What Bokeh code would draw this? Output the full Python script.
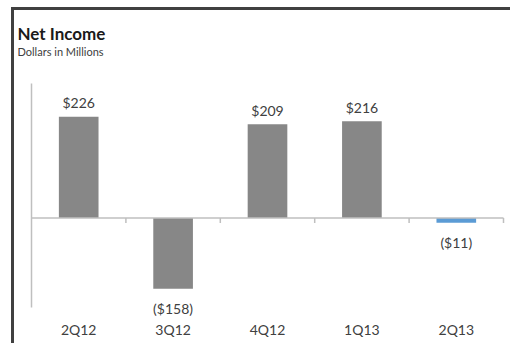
from bokeh.plotting import figure
from bokeh.models import Range1d
from bokeh.core.properties import value
from bokeh.embed import file_html
from bokeh.resources import INLINE

# ---- data ----
categories = ["2Q12", "3Q12", "4Q12", "1Q13", "2Q13"]
net_income = [226, -158, 209, 216, -11]
bar_colors = ["#878787", "#878787", "#878787", "#878787", "#5b9bd5"]
title = "Net Income"
subtitle = "Dollars in Millions"
y_min, y_max = -200, 300

# ---- layout (pixels) ----
W, H = 510, 343
PL, PR, PT, PB = 31, 503, 83, 307          # plot area edges on the canvas
n = len(categories)
cat_w = (PR - PL) / n
y_scale = (PB - PT) / (y_max - y_min)       # px per unit

x0 = -0.5 - PL / cat_w
x1 = -0.5 + (W - PL) / cat_w
zero_px = PT + y_max * y_scale
y1 = zero_px / y_scale
y0 = -(H - zero_px) / y_scale

def px_x(px):
    return x0 + px / cat_w

def px_y(py):
    return y1 - py / y_scale

p = figure(width=W, height=H, output_backend="svg", toolbar_location=None,
           x_range=Range1d(x0, x1), y_range=Range1d(y0, y1),
           x_axis_type=None, y_axis_type=None, min_border=0)
p.outline_line_color = None
p.xgrid.visible = False
p.ygrid.visible = False
p.background_fill_color = "white"
p.border_fill_color = "white"

FONT = value("Lato")
idx = list(range(n))

# frame border (left and top only, cut by the window)
p.segment(x0=[px_x(12), px_x(10.5)], y0=[px_y(H), px_y(8)],
          x1=[px_x(12), px_x(W)], y1=[px_y(8), px_y(8)],
          line_color="#404040", line_width=3)

# title
p.text(x=[px_x(17)], y=[px_y(33)], text=[title], text_font=FONT,
       text_font_size="17px", text_font_style="bold", text_color="#1a1a1a",
       text_baseline="middle", text_align="left")
p.text(x=[px_x(17)], y=[px_y(51)], text=[subtitle], text_font=FONT,
       text_font_size="11px", text_color="#404040",
       text_baseline="middle", text_align="left")

# bars
p.vbar(x=idx, top=net_income, bottom=0, width=0.42, fill_color=bar_colors,
       line_color=None)

# axes
p.segment(x0=[-0.5], y0=[y_min], x1=[-0.5], y1=[y_max], line_color="#bfbfbf",
          line_width=1.5)
p.segment(x0=[-0.5], y0=[0], x1=[n - 0.5], y1=[0], line_color="#bfbfbf",
          line_width=1.5)
tick_len = 5 / y_scale
ticks = [k + 0.5 for k in idx]
p.segment(x0=ticks, y0=[0] * n, x1=ticks, y1=[-tick_len] * n,
          line_color="#bfbfbf", line_width=1.5)

# value labels
def fmt(v):
    return f"${v}" if v >= 0 else f"(${-v})"

pos_i = [i for i in idx if net_income[i] >= 0]
neg_i = [i for i in idx if net_income[i] < 0]
p.text(x=pos_i, y=[net_income[i] for i in pos_i],
       text=[fmt(net_income[i]) for i in pos_i], text_font=FONT,
       text_font_size="14px", text_color="#404040", text_align="center",
       text_baseline="middle", y_offset=-14)
p.text(x=neg_i, y=[net_income[i] for i in neg_i],
       text=[fmt(net_income[i]) for i in neg_i], text_font=FONT,
       text_font_size="14px", text_color="#404040", text_align="center",
       text_baseline="middle", y_offset=20)

# category labels
p.text(x=idx, y=[y_min] * n, text=categories, text_font=FONT,
       text_font_size="14px", text_color="#404040", text_align="center",
       text_baseline="middle", y_offset=22)

open("out.html", "w").write(file_html(p, INLINE))
